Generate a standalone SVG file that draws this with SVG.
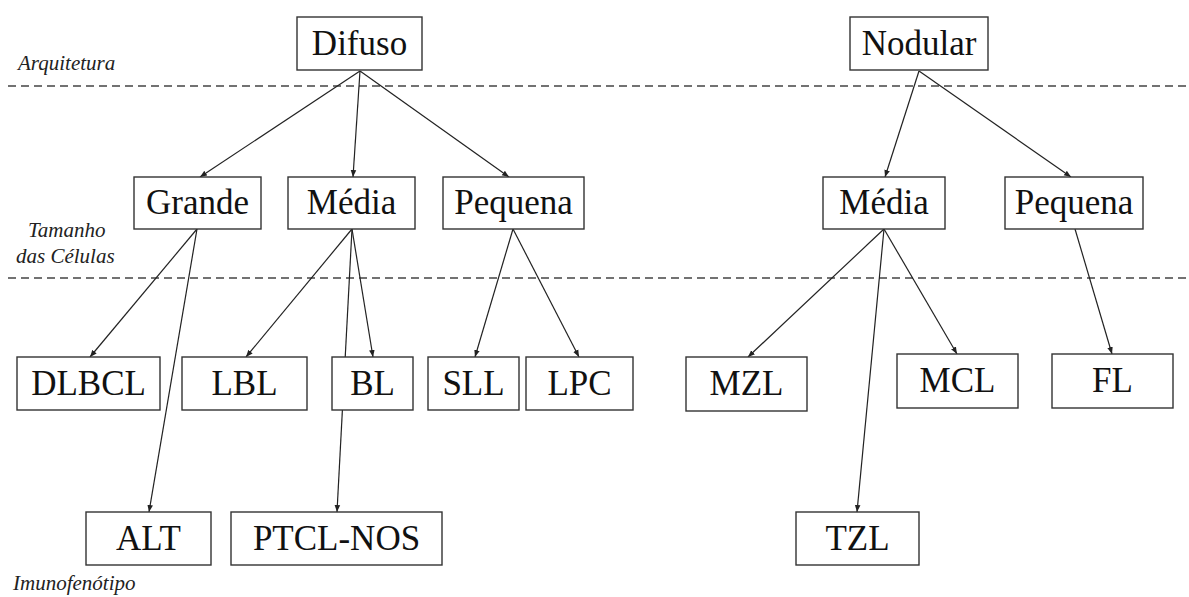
<svg xmlns="http://www.w3.org/2000/svg" width="1189" height="597" viewBox="0 0 1189 597" font-family="'Liberation Serif', 'Times New Roman', serif">
<defs>
<marker id="ah" viewBox="0 0 10 10" refX="10" refY="5" markerWidth="7" markerHeight="7" markerUnits="userSpaceOnUse" orient="auto">
<path d="M0,1 L10,5 L0,9 z" fill="#222"/>
</marker>
</defs>
<rect width="1189" height="597" fill="#fff"/>
<g id="levels">
<line stroke="#444" stroke-width="1.3" stroke-dasharray="8 5" x1="8" y1="86" x2="1189" y2="86"/>
<line stroke="#444" stroke-width="1.3" stroke-dasharray="8 5" x1="8" y1="278" x2="1189" y2="278"/>
<text font-family="'Liberation Serif'" font-style="italic" font-size="21" fill="#222" x="18" y="70">Arquitetura</text>
<text font-family="'Liberation Serif'" font-style="italic" font-size="21" fill="#222" x="28" y="237">Tamanho</text>
<text font-family="'Liberation Serif'" font-style="italic" font-size="21" fill="#222" x="16" y="263">das C&#233;lulas</text>
<text font-family="'Liberation Serif'" font-style="italic" font-size="21" fill="#222" x="13" y="590">Imunofen&#243;tipo</text>
</g>
<g id="connectors" stroke="#222" stroke-width="1.2" marker-end="url(#ah)">
<line x1="360" y1="71" x2="200" y2="177"/>
<line x1="360" y1="71" x2="353" y2="177"/>
<line x1="360" y1="71" x2="509" y2="177"/>
<line x1="197" y1="229" x2="90" y2="357"/>
<line x1="197" y1="229" x2="149" y2="512"/>
<line x1="352" y1="229" x2="246" y2="357"/>
<line x1="352" y1="229" x2="373" y2="357"/>
<line x1="352" y1="229" x2="337" y2="512"/>
<line x1="513" y1="229" x2="475" y2="357"/>
<line x1="513" y1="229" x2="579" y2="357"/>
<line x1="919" y1="71" x2="885" y2="177"/>
<line x1="919" y1="71" x2="1071" y2="177"/>
<line x1="884" y1="229" x2="748" y2="357"/>
<line x1="884" y1="229" x2="857" y2="512"/>
<line x1="884" y1="229" x2="957" y2="354"/>
<line x1="1075" y1="229" x2="1112" y2="354"/>
</g>
<g fill="#fff" stroke="#333" stroke-width="1.4">
<rect id="r-difuso" x="297" y="17" width="125" height="53"/>
<rect id="r-nodular" x="850" y="17" width="138" height="53"/>
<rect id="r-grande" x="134" y="177" width="127" height="52"/>
<rect id="r-media1" x="288" y="177" width="127" height="52"/>
<rect id="r-pequena1" x="443" y="177" width="141" height="52"/>
<rect id="r-media2" x="823" y="177" width="122" height="52"/>
<rect id="r-pequena2" x="1005" y="177" width="138" height="52"/>
<rect id="r-dlbcl" x="17" y="357" width="143" height="53"/>
<rect id="r-lbl" x="182" y="357" width="125" height="53"/>
<rect id="r-bl" x="332" y="357" width="81" height="53"/>
<rect id="r-sll" x="428" y="357" width="91" height="53"/>
<rect id="r-lpc" x="526" y="357" width="107" height="53"/>
<rect id="r-alt" x="86" y="512" width="125" height="53"/>
<rect id="r-ptcl" x="231" y="512" width="211" height="53"/>
<rect id="r-mzl" x="686" y="357" width="121" height="54"/>
<rect id="r-mcl" x="897" y="354" width="121" height="54"/>
<rect id="r-fl" x="1052" y="354" width="121" height="54"/>
<rect id="r-tzl" x="796" y="512" width="123" height="53"/>
</g>
<g id="labels" fill="#111">
<text font-family="'Liberation Serif'" font-size="35" text-anchor="middle" x="359.5" y="55">Difuso</text>
<text font-family="'Liberation Serif'" font-size="35" text-anchor="middle" x="919" y="55">Nodular</text>
<text font-family="'Liberation Serif'" font-size="35" text-anchor="middle" x="197.5" y="214">Grande</text>
<text font-family="'Liberation Serif'" font-size="35" text-anchor="middle" x="351.5" y="214">M&#233;dia</text>
<text font-family="'Liberation Serif'" font-size="35" text-anchor="middle" x="513.5" y="214">Pequena</text>
<text font-family="'Liberation Serif'" font-size="35" text-anchor="middle" x="884" y="214">M&#233;dia</text>
<text font-family="'Liberation Serif'" font-size="35" text-anchor="middle" x="1074" y="214">Pequena</text>
<text font-family="'Liberation Serif'" font-size="35" text-anchor="middle" x="88.5" y="395">DLBCL</text>
<text font-family="'Liberation Serif'" font-size="35" text-anchor="middle" x="244.5" y="395">LBL</text>
<text font-family="'Liberation Serif'" font-size="35" text-anchor="middle" x="372.5" y="395">BL</text>
<text font-family="'Liberation Serif'" font-size="35" text-anchor="middle" x="473.5" y="395">SLL</text>
<text font-family="'Liberation Serif'" font-size="35" text-anchor="middle" x="579.5" y="395">LPC</text>
<text font-family="'Liberation Serif'" font-size="35" text-anchor="middle" x="148.5" y="550">ALT</text>
<text font-family="'Liberation Serif'" font-size="35" text-anchor="middle" x="336.5" y="550">PTCL-NOS</text>
<text font-family="'Liberation Serif'" font-size="35" text-anchor="middle" x="746.5" y="395">MZL</text>
<text font-family="'Liberation Serif'" font-size="35" text-anchor="middle" x="957.5" y="392">MCL</text>
<text font-family="'Liberation Serif'" font-size="35" text-anchor="middle" x="1112.5" y="392">FL</text>
<text font-family="'Liberation Serif'" font-size="35" text-anchor="middle" x="857.5" y="550">TZL</text>
</g>
</svg>
